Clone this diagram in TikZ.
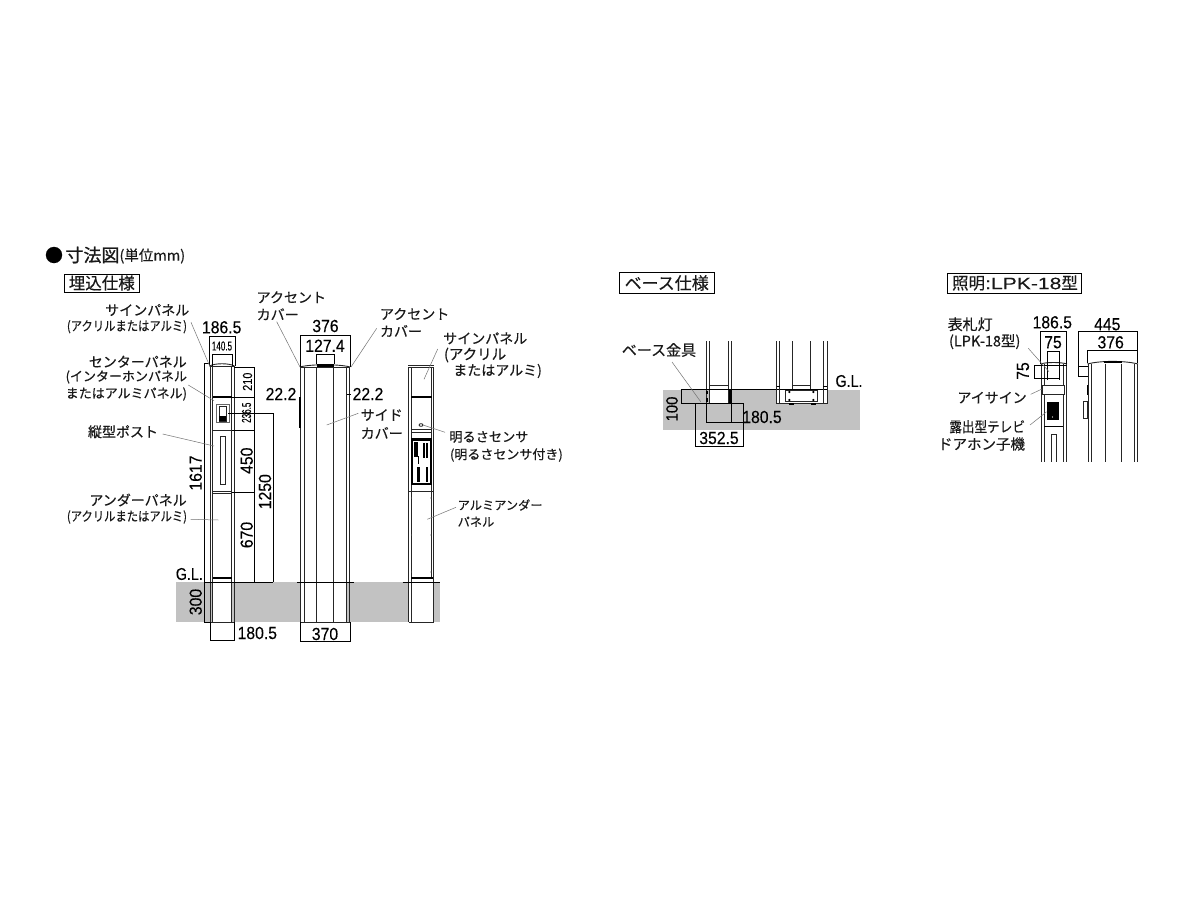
\documentclass[tikz,border=0pt]{standalone}
\usepackage{fontspec}
\setmainfont[FakeBold=0.3]{Noto Sans CJK JP}
\newfontfamily\titf[FakeBold=0.9]{Noto Sans CJK JP}
\newfontfamily\cndf[FakeStretch=0.87,FakeBold=0.3]{Noto Sans CJK JP}
\newfontfamily\numf[FakeStretch=0.9,FakeBold=0.15]{Liberation Sans}
\newfontfamily\numc[FakeStretch=0.62,FakeBold=0.15]{Liberation Sans}
\newfontfamily\numd[FakeStretch=0.84,FakeBold=0.15]{Liberation Sans}
\newfontfamily\numw[FakeStretch=1.28,FakeBold=0.1]{Liberation Sans}
\newcommand{\tsz}[1]{\fontsize{#1}{#1}\selectfont}
\tikzset{
 x=1pt,y=-1pt,
 lab/.style={inner sep=0pt,outer sep=0pt,font=\tsz{14},text=black!90},
 labs/.style={lab,font=\tsz{13}},
 labn/.style={lab,font=\cndf\tsz{13}},
 lbl/.style={lab,anchor=west},
 lbr/.style={lab,anchor=east},
 lsl/.style={labs,anchor=west},
 lsr/.style={labs,anchor=east},
 num/.style={inner sep=0pt,outer sep=0pt,font=\numf\tsz{17.5},text=black},
 numr/.style={num,rotate=90},
 numsm/.style={num,font=\numd\tsz{13},rotate=90},
 tag/.style={draw=black,line width=.8pt},
 ld/.style={draw=black!55,line width=.5pt},
 dm/.style={draw=black,line width=.55pt},
 ol/.style={draw=black!85,line width=.9pt},
 th/.style={draw=black,line width=2pt},
 ground/.style={fill=black!24,draw=none},
}
\begin{document}
\begin{tikzpicture}
\useasboundingbox (0,0) rectangle (1200,900);
\fill[white] (0,0) rectangle (1200,900);
% ground
\path[ground] (176,582) rectangle (440,622);
\path[ground] (663,389.5) rectangle (860,429.5);
\fill[white] (212,582) rectangle (231.5,622);
\fill[white] (300.5,582) rectangle (346,622);
\fill[white] (409,582) rectangle (433,622);
\fill[white] (710,389.5) rectangle (728,403);
\fill[white] (776.7,389.5) rectangle (827.3,403);
% titles
\node[inner sep=0pt,font=\tsz{18}] (dot) at (54,255) {●};
\node[lab,anchor=west,font=\titf\tsz{18}] (ttl) at (65.5,255) {寸法図};
\node[lab,anchor=west,font=\tsz{14.5}] (ttu) at (119.5,256) {(単位mm)};
\draw[tag] (64.3,274) rectangle (139.3,292.3);
\node[lab,font=\tsz{16.5}] (t1) at (101.8,283) {埋込仕様};
\draw[tag] (619.3,272.5) rectangle (714,293.3);
\node[lab,font=\tsz{17}] (t2) at (666.7,283) {ベース仕様};
\draw[tag] (947.7,273.3) rectangle (1081.7,293.3);
\node[lab,font=\tsz{16.5}] (t3) at (1015,283) {照明{\numw :LPK-18}型};

% ---------- left post
\draw[ol] (210,366)--(210,622) (234,366)--(234,622) (231.5,366)--(231.5,622);
\draw[ol] (212.8,366)--(212.8,622);
\draw[ol] (210,622)--(234,622);
\draw[ol] (209.5,366) .. controls (215,363) and (229,363) .. (234.5,366);
\draw[ol] (209.5,366)--(234.5,366);
\draw[th] (213,397.3)--(231.5,397.3);
\draw[ol] (213,430)--(231.5,430) (213,491)--(231.5,491) (213,493)--(231.5,493);
\draw[th] (213,578)--(231.5,578);
\draw[draw=black!60,line width=.9pt] (216,404.3) rectangle (229.3,422.3);
\draw[ol] (219,406) rectangle (226,421);
\fill[black] (219,415.5) rectangle (226,420.5);
\draw[ol] (220,436.7) rectangle (225,484.3);
% left dims
\draw[dm] (209.3,366)--(209.3,336)--(235,336)--(235,366);
\draw[dm] (212,366)--(212,354)--(232.7,354)--(232.7,366);
\draw[dm] (204,363)--(210,363) (204,363)--(204,622)--(210,622);
\draw[dm] (234,367)--(254,367)--(254,582);
\draw[dm] (231.5,397.3)--(254,397.3) (231.5,430)--(254,430) (231.5,492)--(254,492);
\draw[dm] (228,413)--(273,413)--(273,582);
\draw[dm] (204,582)--(273,582);
\draw[dm] (210,622)--(210,640)--(234.5,640)--(234.5,622);
\node[num] (d1865) at (221.7,327.3) {186.5};
\node[num,font=\numc\tsz{13}] (d1405) at (222,346) {140.5};
\node[numsm] (d210) at (247.5,381.7) {210};
\node[numsm] (d2365) at (246.5,412.7) {\numc 236.5};
\node[numr] (d450) at (246.7,460.7) {450};
\node[numr] (d670) at (246.7,535) {670};
\node[numr] (d1250) at (265,491.7) {1250};
\node[numr] (d1617) at (195.7,473) {1617};
\node[numr] (d300) at (195.7,602) {300};
\node[num] (d1805) at (257.3,633) {180.5};
\node[num,font=\numd\tsz{17}] (gl1) at (189.3,574) {G.L.};
% left labels
\node[lbr] (a1) at (189.3,310) {サインパネル};
\node[labn,anchor=east] (a2) at (187,326.7) {(アクリルまたはアルミ)};
\node[lbr] (a3) at (186.7,361.7) {センターパネル};
\node[lsr] (a4) at (187,377) {(インターホンパネル};
\node[lsr] (a5) at (187,394) {またはアルミパネル)};
\node[lbr] (a6) at (158,431.7) {縦型ポスト};
\node[lbr] (a7) at (186.7,500) {アンダーパネル};
\node[labn,anchor=east] (a8) at (187,517) {(アクリルまたはアルミ)};
\draw[ld] (191,322.3)--(210,366.7) (188.3,385)--(214,400.7) (162.7,434)--(214,446) (190.7,519.3)--(218.3,520);

% ---------- middle post
\foreach \xx/\lw in {300.5/1.3,304/.9,316.7/.9,333.3/.9,346/.9,349.3/.9}
  \draw[draw=black!85,line width=\lw pt] (\xx,367)--(\xx,622);
\draw[ol] (300,367)--(350,367);
\draw[ol] (300,367) .. controls (310,364) and (340,364) .. (350,367);
\draw[th,line width=3pt] (317,365)--(334,365);
\draw[th] (299.5,397)--(299.5,428);
\draw[ol] (300.5,622)--(349.5,622);
\draw[dm] (300,367)--(300,335)--(350.7,335)--(350.7,367);
\draw[dm] (316.5,364)--(316.5,354)--(334.7,354)--(334.7,364);
\draw[dm] (346.5,394)--(350.5,394);
\draw[dm] (297,582)--(354,582);
\draw[dm] (300,622)--(300,641)--(350.7,641)--(350.7,622);
\node[num] (m376) at (325.5,326) {376};
\node[num] (m127) at (325,345.7) {127.4};
\node[num] (m22a) at (281,394) {22.2};
\node[num] (m22b) at (368,394) {22.2};
\node[num] (m370) at (325,634) {370};
\node[lbl] (b1) at (256.7,297.3) {アクセント};
\node[lbl] (b2) at (256.7,314.3) {カバー};
\node[lbl] (b3) at (380,314) {アクセント};
\node[lbl] (b4) at (380,331) {カバー};
\node[lbl] (b5) at (360.7,415) {サイド};
\node[lbl] (b6) at (360.7,433) {カバー};
\draw[ld] (276.7,321.7)--(300,367) (376.7,328.3)--(351,367) (358.3,413.3)--(326.7,425);

% ---------- right post
\draw[ol] (408.5,367)--(408.5,622) (411,367)--(411,622) (433.5,367)--(433.5,622) (431.7,367)--(431.7,440);
\draw[ol] (431.7,484)--(431.7,578);
\draw[ol] (408,365)--(434,365) (408,367.5)--(434,367.5);
\draw[th] (411,397)--(431.7,397);
\draw[ol] (411,429)--(431.7,429) (411,432.7)--(431.7,432.7);
\draw[dm] (411,438)--(431.7,438);
\draw[draw=black,line width=1.4pt] (412,440) rectangle (431,484);
\draw[ol] (408.5,491)--(433.5,491);
\draw[th] (411,578)--(433,578);
\draw[ol] (408.5,622)--(433.5,622);
\fill[black] (414.3,441.7) rectangle (417.7,456.7);
\fill[black] (418,456) rectangle (419.2,464);
\fill[black] (422.7,442.7) rectangle (424.5,458);
\fill[black] (426,442.7) rectangle (427.5,458);
\fill[black] (416.7,466.7) rectangle (420,481.7);
\fill[black] (426,466.7) rectangle (427.5,481.7);
\draw[draw=black,line width=.7pt] (421,425) ellipse [x radius=2,y radius=1.3];
\foreach \yy in {498,535,572}{\fill[black!70] (431,\yy) circle (.6);\fill[black!70] (411.5,\yy) circle (.6);}
\draw[dm] (402.7,582)--(440,582);
\node[lbl] (c1) at (443.3,338.3) {サインパネル};
\node[lbl,font=\tsz{14.5}] (c2) at (444,355) {(アクリル};
\node[lbl] (c3) at (453.3,371) {またはアルミ)};
\node[lbl,font=\tsz{13.2}] (c4) at (449.3,437) {明るさセンサ};
\node[lsl] (c5) at (450,455) {(明るさセンサ付き)};
\node[lbl,font=\tsz{12.2}] (c6) at (457.7,505) {アルミアンダー};
\node[lbl,font=\tsz{12.2}] (c7) at (457.7,521.7) {パネル};
\draw[ld] (437.7,349)--(424,379.3) (445,432.3)--(423,425) (456,507.3)--(427.3,519.3);

% ---------- base spec, left
\draw[ol] (706,341)--(706,403) (709,341)--(709,403) (728.3,341)--(728.3,403) (731.3,341)--(731.3,403);
\draw[ol] (710,385.7)--(728,385.7) (710,389)--(728,389);
\draw[dm] (696,403)--(743.3,403);
\draw[th] (707,390.5)--(707,394) (707,398)--(707,402);
\draw[th,line width=2.6pt] (730.5,390)--(730.5,403);
\draw[dm] (680.5,389.5)--(828,389.5);
\draw[dm] (681,389.5)--(681,403)--(700,403);
\draw[dm] (695.7,403)--(695.7,446.7)--(743.3,446.7)--(743.3,403);
\draw[dm] (706,403)--(706,422.7)--(743.3,422.7) (731.3,403)--(731.3,422.7);
\node[numr,font=\numf\tsz{16.5}] (e100) at (672,409) {100};
\node[num] (e180) at (762,417) {180.5};
\node[num] (e352) at (719,438) {352.5};
\node[lab,font=\tsz{15}] (e1) at (659,350) {ベース金具};
\draw[ld] (672,362)--(700.7,401.7);
% base spec, right
\draw[ol] (776.7,341)--(776.7,403)--(827.3,403)--(827.3,341);
\draw[ol] (779.5,341)--(779.5,403) (823.3,341)--(823.3,403);
\draw[ol] (792.7,341)--(792.7,389) (810.7,341)--(810.7,389);
\draw[ol] (792.7,385.5)--(810.7,385.5);
\draw[dm] (776.7,386)--(779.5,386) (823.3,386)--(827.3,386);
\draw[ol] (785.7,390) rectangle (817.3,401);
\foreach \xx in {789.3,813.3}{\foreach \yy in {392,400}{\fill[black] (\xx,\yy) circle (1.2);}}
\draw[th] (789,404)--(794,404) (811,404)--(816,404);
\node[num,font=\numd\tsz{17}] (gl2) at (849,381) {G.L.};

% ---------- lighting
\foreach \xx in {1041,1044.3,1063.3,1066.7}\draw[ol] (\xx,364)--(\xx,461.5);
\draw[ol] (1040.5,364) .. controls (1046,362) and (1061,362) .. (1067,364);
\draw[dm] (1040.5,365.5)--(1067,365.5);
\draw[ol] (1042.3,385) rectangle (1064.3,394.3);
\fill[white] (1043,385.5) rectangle (1063.8,393.8);
\fill[black] (1046.7,401.7) rectangle (1059.3,420);
\fill[white] (1052.5,417) circle (.6);
\draw[th,line width=1.4pt] (1044.3,426.7)--(1063.3,426.7);
\draw[ol] (1051.7,461.5)--(1051.7,434)--(1056.7,434)--(1056.7,461.5);
\draw[dm] (1040,364)--(1040,331.7)--(1066.7,331.7)--(1066.7,364);
\draw[dm] (1047.7,380)--(1047.7,351.7)--(1059,351.7)--(1059,380);
\draw[dm] (1034,365.7)--(1059,365.7) (1034,378.3)--(1059,378.3) (1034,365.7)--(1034,378.3);
\node[num] (f186) at (1052.3,322.3) {186.5};
\node[num] (f75) at (1053,342.3) {75};
\node[numr] (f75b) at (1023,371) {75};
\node[lbl,font=\tsz{15}] (f1) at (947.7,324.3) {表札灯};
\node[lbl,font=\tsz{14.5}] (f2) at (949,341.7) {(LPK-18型)};
\node[lbr] (f3) at (1026.7,397.7) {アイサイン};
\node[lbr,font=\cndf\tsz{14.5}] (f4) at (1025,426.7) {露出型テレビ};
\node[lbr,font=\tsz{14.5}] (f5) at (1025,444) {ドアホン子機};
\draw[ld] (1028.3,348.3)--(1049,371.7) (1030.7,394.3)--(1042,389) (1030,425)--(1046.7,411.7);
% lighting right
\foreach \xx in {1088.3,1091.7,1105,1121.7,1134,1137.3}\draw[ol] (\xx,363.5)--(\xx,461.5);
\draw[ol] (1087.5,364) .. controls (1100,360.5) and (1125,360.5) .. (1138,364);
\draw[th,line width=2.6pt] (1104,362)--(1121.7,362);
\draw[th,line width=1.6pt] (1087.5,385)--(1087.5,395);
\draw[ol] (1083.3,401.7) rectangle (1087.3,418.3);
\draw[dm] (1088.3,366)--(1078.3,366)--(1078.3,376.7)--(1088.3,376.7);
\draw[dm] (1078.3,366)--(1078.3,331.7)--(1137.3,331.7)--(1137.3,363);
\draw[dm] (1087.3,363)--(1087.3,350.7)--(1137.3,350.7);
\node[num] (g445) at (1107.3,324.3) {445};
\node[num] (g376) at (1110.7,342.3) {376};
\end{tikzpicture}
\end{document}
